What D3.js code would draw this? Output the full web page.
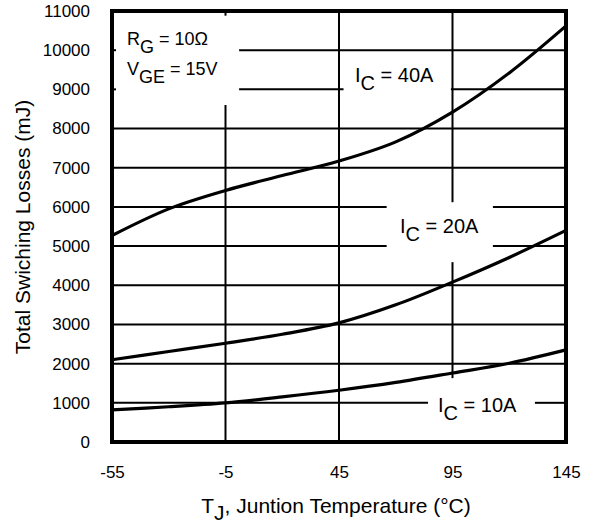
<!DOCTYPE html>
<html lang="en">
<head>
<meta charset="UTF-8">
<title>Total Switching Losses vs Junction Temperature</title>
<script src="https://d3js.org/d3.v7.min.js"></script>
<style>
  body { margin: 0; background: #fff; }
  text { font-family: "Liberation Sans", Arial, sans-serif; fill: #000; }
  .grid { stroke: #000; stroke-width: 2px; fill: none; }
  .curve { stroke: #000; stroke-width: 3.2px; fill: none; stroke-linecap: round; }
  .frame { stroke: #000; stroke-width: 4px; fill: none; }
</style>
</head>
<body>
<div id="chart"></div>
<script>
// data
const temps = [-55, -30, -5, 20, 45, 70, 95, 120, 145];
const ic40 = [5270, 5950, 6420, 6800, 7170, 7660, 8420, 9420, 10620];
const ic20 = [2100, 2310, 2520, 2750, 3040, 3500, 4080, 4710, 5400];
const ic10 = [820, 900, 1000, 1150, 1320, 1520, 1760, 2010, 2350];
const xTicks = [-55, -5, 45, 95, 145];
const yTicks = d3.range(0, 11001, 1000);

const margin = { top: 11, right: 24, bottom: 87, left: 112 },
      width = 590 - margin.left - margin.right,
      height = 529 - margin.top - margin.bottom;

const x = d3.scaleLinear().domain([-55, 145]).range([0, width]);
const y = d3.scaleLinear().domain([0, 11000]).range([height, 0]);

const svg = d3.select("#chart").append("svg")
    .attr("width", 590)
    .attr("height", 529)
  .append("g")
    .attr("transform", `translate(${margin.left},${margin.top})`);

// grid lines, broken where the labels sit
const hGrid = [
  [10000, [[1, 145]]],
  [9000, [[1, 47], [94.3, 145]]],
  [8000, [[-55, 145]]],
  [7000, [[-55, 145]]],
  [6000, [[-55, 66], [112.8, 145]]],
  [5000, [[-55, 66], [112.8, 145]]],
  [4000, [[-55, 145]]],
  [3000, [[-55, 145]]],
  [2000, [[-55, 145]]],
  [1000, [[-55, 84.2], [131.3, 145]]]
];
const vGrid = [
  [-5, [[0, 8600], [10880, 11000]]],
  [45, [[0, 11000]]],
  [95, [[6120, 11000], [1630, 4590]]]
];

hGrid.forEach(([v, segs]) => segs.forEach(([a, b]) => {
  svg.append("line").attr("class", "grid")
    .attr("x1", x(a)).attr("x2", x(b))
    .attr("y1", y(v)).attr("y2", y(v));
}));
vGrid.forEach(([v, segs]) => segs.forEach(([a, b]) => {
  svg.append("line").attr("class", "grid")
    .attr("x1", x(v)).attr("x2", x(v))
    .attr("y1", y(a)).attr("y2", y(b));
}));
// small ticks on left edge
[10000, 9000].forEach(v => {
  svg.append("line").attr("class", "grid")
    .attr("x1", 0).attr("x2", 4)
    .attr("y1", y(v)).attr("y2", y(v));
});

// curves
const line = d3.line()
    .x(d => x(d[0]))
    .y(d => y(d[1]))
    .curve(d3.curveCatmullRom.alpha(0.5));

[ic40, ic20, ic10].forEach(series => {
  svg.append("path")
    .datum(temps.map((t, i) => [t, series[i]]))
    .attr("class", "curve")
    .attr("d", line);
});

// frame
svg.append("rect").attr("class", "frame")
    .attr("x", 0).attr("y", 0)
    .attr("width", width).attr("height", height);

// axes
const yAxis = svg.append("g")
    .call(d3.axisLeft(y).tickValues(yTicks).tickSize(0).tickPadding(22).tickFormat(d => String(d)));
yAxis.select(".domain").remove();
yAxis.selectAll("text").style("font-size", "17px").style("font-family", null);

const xAxis = svg.append("g")
    .attr("transform", `translate(0,${height})`)
    .call(d3.axisBottom(x).tickValues(xTicks).tickSize(0).tickPadding(24).tickFormat(d => String(d)));
xAxis.select(".domain").remove();
xAxis.selectAll("text").style("font-size", "17px").style("font-family", null);

// axis labels
const xl = svg.append("text")
    .attr("x", width / 2 - 3)
    .attr("y", height + 71)
    .style("text-anchor", "middle")
    .style("font-size", "21px");
xl.append("tspan").text("T");
xl.append("tspan").attr("dy", 7).text("J");
xl.append("tspan").attr("dy", -7).text(", Juntion Temperature (°C)");

svg.append("text")
    .attr("transform", "rotate(-90)")
    .attr("x", -216)
    .attr("y", -82)
    .style("text-anchor", "middle")
    .style("font-size", "21px")
    .text("Total Swiching Losses (mJ)");

// annotations
function subLabel(px, py, size, main, sub, rest) {
  const t = svg.append("text")
      .attr("x", px).attr("y", py)
      .style("font-size", size + "px");
  t.append("tspan").text(main);
  t.append("tspan").attr("dy", 8).text(sub);
  t.append("tspan").attr("dy", -8).text(rest);
}
subLabel(15, 34, 18, "R", "G", " = 10\u03A9");
subLabel(15, 64, 18, "V", "GE", " = 15V");
subLabel(243, 71, 20, "I", "C", " = 40A");
subLabel(288, 222, 20, "I", "C", " = 20A");
subLabel(326, 401, 20, "I", "C", " = 10A");
</script>
</body>
</html>
